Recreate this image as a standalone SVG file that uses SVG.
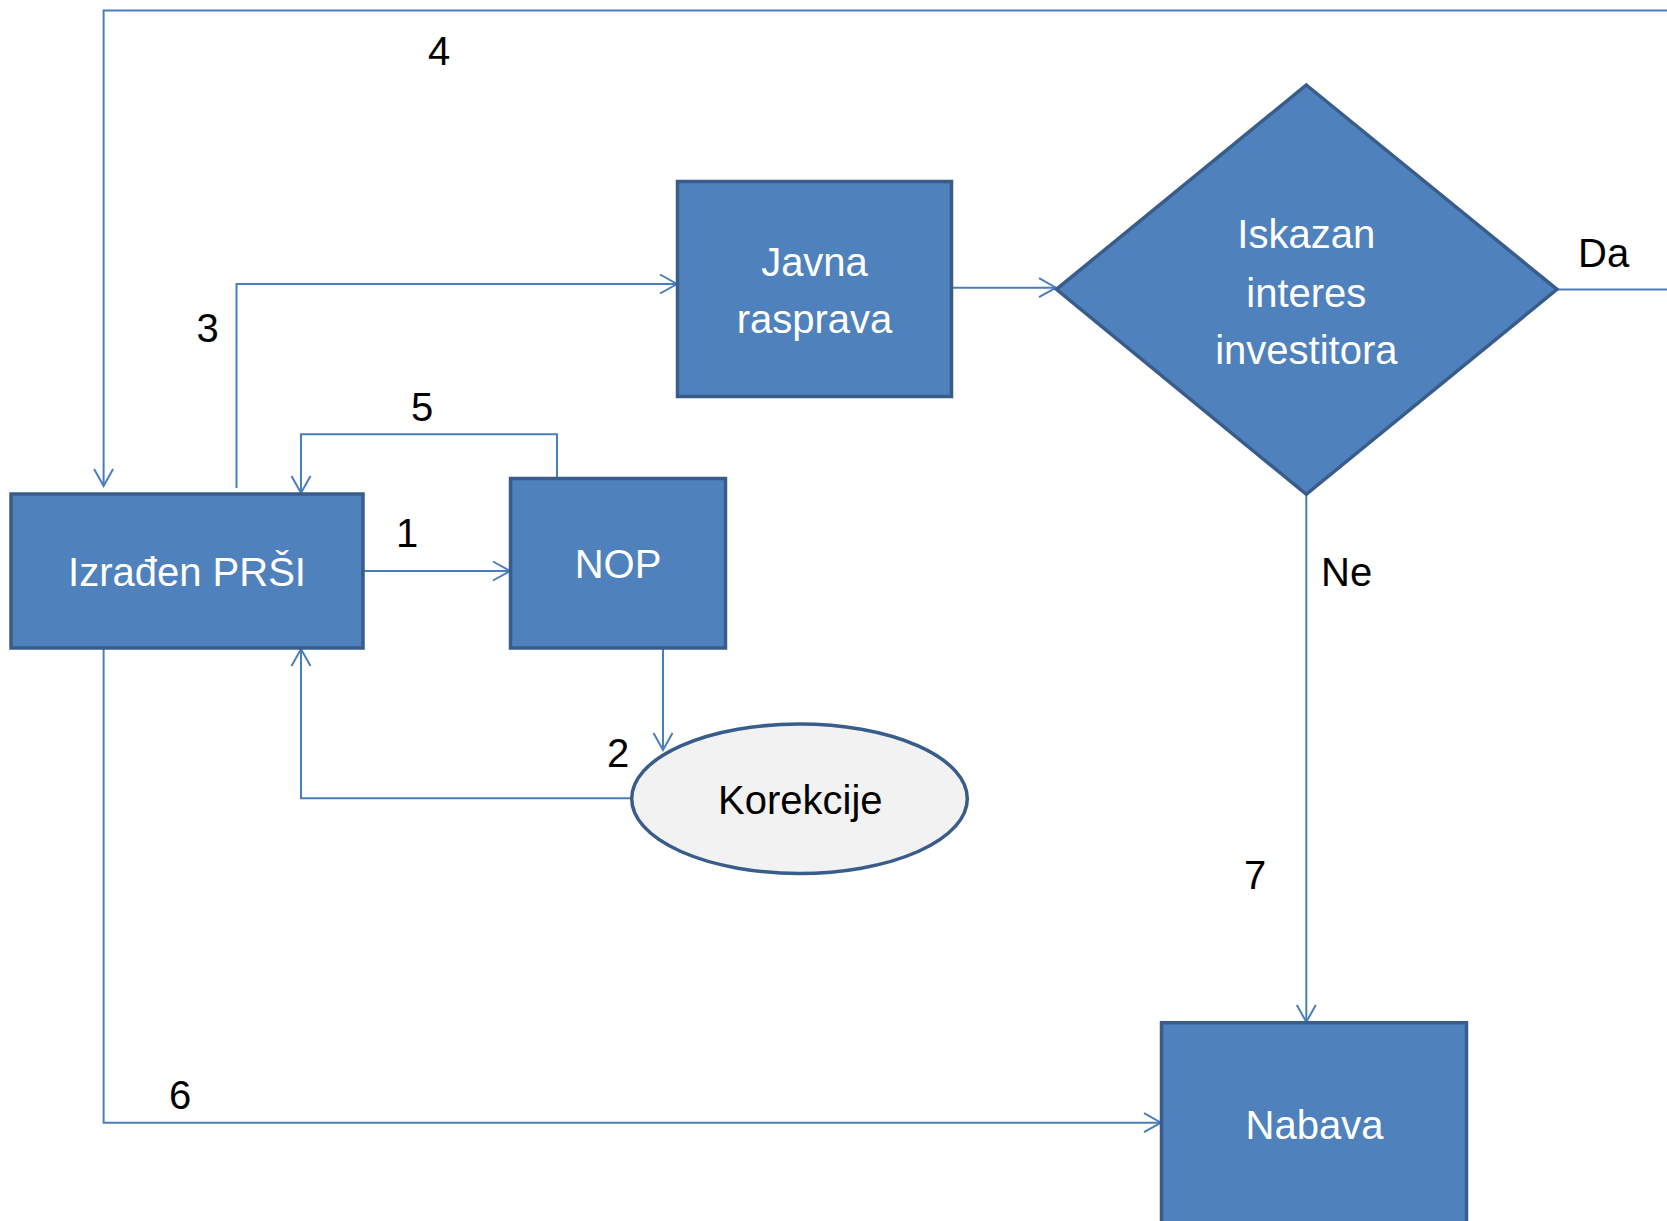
<svg xmlns="http://www.w3.org/2000/svg" width="1667" height="1221" viewBox="0 0 1667 1221">
<style>
.box{fill:#4F81BD;stroke:#385D8A;stroke-width:3.5}
.ell{fill:#F2F2F2;stroke:#385D8A;stroke-width:3.5}
.wt{font-family:"Liberation Sans",Arial,sans-serif;font-size:40px;fill:#FFFFFF;text-anchor:middle}
.bt{font-family:"Liberation Sans",Arial,sans-serif;font-size:40px;fill:#000000}
.c{fill:none;stroke:#4A7EBB;stroke-width:2}
</style>
<defs>
<marker id="arr" markerUnits="userSpaceOnUse" markerWidth="22" markerHeight="22" viewBox="0 0 22 22" refX="19" refY="11" orient="auto">
<path d="M2,1.5 L19,11 L2,20.5" fill="none" stroke="#4A7EBB" stroke-width="2"/>
</marker>
</defs>
<rect width="1667" height="1221" fill="#FFFFFF"/>
<g id="connectors">
<path class="c" d="M363,571 H510" marker-end="url(#arr)"/>
<path class="c" d="M663,648 V750" marker-end="url(#arr)"/>
<path class="c" d="M236.5,488 V284 H677" marker-end="url(#arr)"/>
<path class="c" d="M1667,10.5 H103.6 V486" marker-end="url(#arr)"/>
<path class="c" d="M557,478 V434.3 H301 V493" marker-end="url(#arr)"/>
<path class="c" d="M103.6,648 V1122.7 H1161" marker-end="url(#arr)"/>
<path class="c" d="M1306.3,494 V1022" marker-end="url(#arr)"/>
<path class="c" d="M1557,289.5 H1667"/>
<path class="c" d="M632,798.3 H301 V649" marker-end="url(#arr)"/>
<path class="c" d="M952,287.7 H1056" marker-end="url(#arr)"/>
</g>
<g id="labels">
<text class="bt" x="439" y="65" text-anchor="middle">4</text>
<text class="bt" x="207.6" y="342" text-anchor="middle">3</text>
<text class="bt" x="422" y="421" text-anchor="middle">5</text>
<text class="bt" x="407" y="547" text-anchor="middle">1</text>
<text class="bt" x="618" y="767" text-anchor="middle">2</text>
<text class="bt" x="180" y="1109" text-anchor="middle">6</text>
<text class="bt" x="1255" y="889" text-anchor="middle">7</text>
<text class="bt" x="1578" y="267">Da</text>
<text class="bt" x="1321" y="586">Ne</text>
</g>
<g id="izradjen">
<rect class="box" x="11" y="494" width="352" height="154"/>
<text class="wt" x="187" y="585.7">Izrađen PRŠI</text>
</g>
<g id="nop">
<rect class="box" x="510.5" y="478.5" width="215" height="169.5"/>
<text class="wt" x="618" y="578">NOP</text>
</g>
<g id="javna">
<rect class="box" x="677.5" y="181.5" width="274" height="215"/>
<text class="wt" x="814.5" y="276">Javna</text>
<text class="wt" x="814.5" y="333.3">rasprava</text>
</g>
<g id="odluka">
<polygon class="box" points="1306.3,85 1557,289.3 1306.3,494.3 1056.4,289.3"/>
<text class="wt" x="1306.3" y="248.3">Iskazan</text>
<text class="wt" x="1306.3" y="306.7">interes</text>
<text class="wt" x="1306.3" y="364">investitora</text>
</g>
<g id="korekcije">
<ellipse class="ell" cx="799.5" cy="798.7" rx="167.8" ry="74.7"/>
<text class="bt" x="800.3" y="814.3" text-anchor="middle" font-size="42">Korekcije</text>
</g>
<g id="nabava">
<rect class="box" x="1161.5" y="1022.7" width="305" height="220"/>
<text class="wt" x="1314.5" y="1139">Nabava</text>
</g>
</svg>
